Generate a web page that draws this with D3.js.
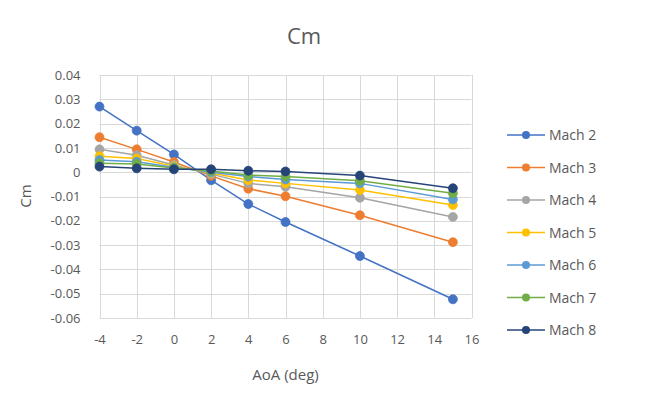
<!DOCTYPE html>
<html>
<head>
<meta charset="utf-8">
<script src="https://cdn.jsdelivr.net/npm/d3@7"></script>
<style>
  html, body { margin: 0; padding: 0; background: #fff; }
  svg { display: block; }
  text { font-family: "Open Sans", "Noto Sans", sans-serif; fill: #595959; }
</style>
</head>
<body>
<svg id="chart" width="646" height="404"></svg>
<script>
const aoa = [-4, -2, 0, 2, 4, 6, 10, 15];
const seriesNames = ["Mach 2", "Mach 3", "Mach 4", "Mach 5", "Mach 6", "Mach 7", "Mach 8"];
const mach2 = [0.0270, 0.0171, 0.0073, -0.0033, -0.0131, -0.0205, -0.0345, -0.0523];
const mach3 = [0.0144, 0.0094, 0.0042, -0.0015, -0.0068, -0.0099, -0.0177, -0.0288];
const mach4 = [0.0094, 0.0070, 0.0030, -0.0008, -0.0046, -0.0060, -0.0105, -0.0184];
const mach5 = [0.0066, 0.0056, 0.0025, -0.0003, -0.0032, -0.0046, -0.0073, -0.0135];
const mach6 = [0.0050, 0.0043, 0.0020, 0.0000, -0.0018, -0.0030, -0.0046, -0.0112];
const mach7 = [0.0037, 0.0034, 0.0017, 0.0005, -0.0012, -0.0018, -0.0035, -0.0087];
const mach8 = [0.0023, 0.0016, 0.0012, 0.0012, 0.0006, 0.0003, -0.0014, -0.0066];
const colors = ["#4472C4", "#ED7D31", "#A5A5A5", "#FFC000", "#5B9BD5", "#70AD47", "#264478"];
const xTicks = [-4, -2, 0, 2, 4, 6, 8, 10, 12, 14, 16];
const yTicks = [0.04, 0.03, 0.02, 0.01, 0, -0.01, -0.02, -0.03, -0.04, -0.05, -0.06];
const titleText = "Cm";
const xTitle = "AoA (deg)";
const yTitle = "Cm";

(function () {
const allValues = [mach2, mach3, mach4, mach5, mach6, mach7, mach8];
const series = seriesNames.map((name, i) => ({
  name, color: colors[i],
  points: aoa.map((a, j) => ({ x: a, y: allValues[i][j] }))
}));

const svg = d3.select("#chart");
const pL = 99.5, pR = 471.5, pT = 75, pB = 318;
const x = d3.scaleLinear().domain([-4, 16]).range([pL, pR]);
const y = d3.scaleLinear().domain([-0.06, 0.04]).range([pB, pT]);

// title
svg.append("text").attr("x", 304).attr("y", 44).attr("text-anchor", "middle")
  .style("font-size", "22px").text(titleText);

// gridlines
const grid = svg.append("g");
grid.selectAll("line.h").data(yTicks).join("line")
  .attr("x1", pL).attr("x2", pR)
  .attr("y1", d => Math.round(y(d)) + 0.5).attr("y2", d => Math.round(y(d)) + 0.5)
  .attr("stroke", "#d9d9d9").attr("stroke-width", 1);
grid.selectAll("line.v").data(xTicks).join("line")
  .attr("y1", pT).attr("y2", pB)
  .attr("x1", d => Math.round(x(d)) + 0.5).attr("x2", d => Math.round(x(d)) + 0.5)
  .attr("stroke", "#d9d9d9").attr("stroke-width", 1);

// axes via d3
const yAxis = d3.axisLeft(y).tickValues(yTicks).tickSize(0).tickPadding(19)
  .tickFormat(d => d === 0 ? "0" : d3.format(".2f")(d).replace("\u2212", "-"));
const gy = svg.append("g").attr("transform", `translate(${pL},0)`).call(yAxis);
gy.select(".domain").remove();
gy.selectAll("text").style("font-size", "13px").style("fill", "#595959")
  .style("font-family", "'Open Sans', sans-serif");

const xAxis = d3.axisBottom(x).tickValues(xTicks).tickSize(0).tickPadding(17)
  .tickFormat(d => String(d));
const gx = svg.append("g").attr("transform", `translate(0,${pB})`).call(xAxis);
gx.select(".domain").remove();
gx.selectAll("text").style("font-size", "13px").style("fill", "#595959")
  .style("font-family", "'Open Sans', sans-serif");

// axis titles
svg.append("text").attr("x", 285.5).attr("y", 380).attr("text-anchor", "middle")
  .style("font-size", "15px").text(xTitle);
svg.append("text").attr("transform", "translate(31,196) rotate(-90)")
  .attr("text-anchor", "middle").style("font-size", "15px").text(yTitle);

// series
const line = d3.line().x(d => x(d.x)).y(d => y(d.y));
const gs = svg.append("g");
series.forEach(s => {
  const g = gs.append("g");
  g.append("path").datum(s.points).attr("d", line)
    .attr("fill", "none").attr("stroke", s.color).attr("stroke-width", 1.5);
  g.selectAll("circle").data(s.points).join("circle")
    .attr("cx", d => x(d.x)).attr("cy", d => y(d.y)).attr("r", 4.5)
    .attr("fill", s.color).attr("stroke", s.color).attr("stroke-width", 0.75);
});

// legend
const legend = svg.append("g");
series.forEach((s, i) => {
  const ly = 135 + i * 32.5;
  legend.append("line").attr("x1", 507).attr("x2", 545).attr("y1", ly).attr("y2", ly)
    .attr("stroke", s.color).attr("stroke-width", 1.5);
  legend.append("circle").attr("cx", 526).attr("cy", ly).attr("r", 4)
    .attr("fill", s.color);
  legend.append("text").attr("x", 549).attr("y", ly + 5)
    .style("font-size", "14px").text(s.name);
});
})();
</script>
</body>
</html>
